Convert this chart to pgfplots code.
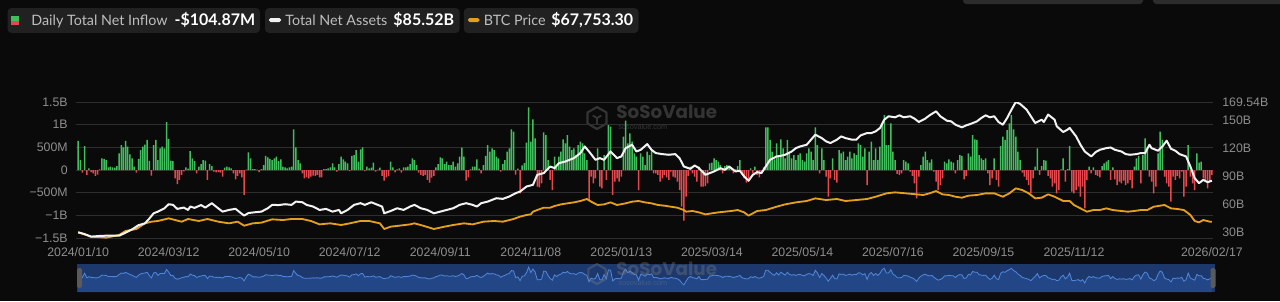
\documentclass[border=0pt]{standalone}
\usepackage{fontspec}
\setmainfont{Liberation Sans}
\newfontfamily\latofont{Lato}
\newfontfamily\wmfont{Poppins}
\usepackage{pgfplots}
\pgfplotsset{compat=1.18}
\usepackage{pgfplotstable}

\definecolor{bg}{RGB}{10,10,10}
\definecolor{gridc}{RGB}{46,46,46}
\definecolor{tickc}{RGB}{142,142,142}
\definecolor{boxc}{RGB}{33,33,33}
\definecolor{tabc}{RGB}{44,44,44}
\definecolor{labc}{RGB}{190,190,190}
\definecolor{upg}{RGB}{64,192,92}
\definecolor{dnr}{RGB}{229,72,77}
\definecolor{assetc}{RGB}{242,242,242}
\definecolor{btcc}{RGB}{228,160,28}
\definecolor{navband}{RGB}{29,56,108}
\definecolor{navfill}{RGB}{35,70,135}
\definecolor{navline}{RGB}{79,134,217}
\definecolor{handlec}{RGB}{90,90,90}
\definecolor{wm}{RGB}{52,52,52}

% Daily total net inflow, million USD, by trading day index
\pgfplotstableread[row sep=\\]{
i v\\
0 640\\1 220\\2 -59\\3 529\\4 -110\\5 37\\6 -44\\7 -74\\8 -132\\9 -103\\
10 15\\11 257\\12 243\\13 220\\14 59\\15 74\\16 59\\17 51\\18 88\\19 368\\
20 551\\21 500\\22 640\\23 515\\24 345\\25 257\\26 74\\27 -60\\28 243\\29 440\\
30 515\\31 560\\32 662\\33 200\\34 -125\\35 551\\36 662\\37 220\\38 478\\39 515\\
40 478\\41 1058\\42 684\\43 206\\44 198\\45 -184\\46 -309\\47 -220\\48 -110\\49 -30\\
50 60\\51 30\\52 419\\53 257\\54 198\\55 -74\\56 74\\57 132\\58 220\\59 206\\
60 -220\\61 132\\62 88\\63 -37\\64 -51\\65 -44\\66 -59\\67 -147\\68 51\\69 74\\
70 59\\71 37\\72 -74\\73 -206\\74 -132\\75 -74\\76 -162\\77 -551\\78 10\\79 390\\
80 257\\81 20\\82 22\\83 10\\84 -44\\85 22\\86 110\\87 309\\88 279\\89 243\\
90 220\\91 257\\92 294\\93 198\\94 235\\95 74\\96 59\\97 37\\98 59\\99 74\\
100 897\\101 500\\102 220\\103 147\\104 -74\\105 -184\\106 -162\\107 -184\\108 -147\\109 -125\\
110 -132\\111 -110\\112 -162\\113 -162\\114 22\\115 22\\116 37\\117 59\\118 147\\119 59\\
120 -37\\121 132\\122 294\\123 235\\124 184\\125 147\\126 -22\\127 309\\128 331\\129 441\\
130 184\\131 456\\132 500\\133 -22\\134 74\\135 37\\136 51\\137 162\\138 -37\\139 10\\
140 51\\141 -132\\142 -235\\143 -162\\144 -132\\145 184\\146 59\\147 -51\\148 15\\149 37\\
150 -59\\151 59\\152 59\\153 74\\154 132\\155 257\\156 220\\157 110\\158 -59\\159 -110\\
160 -132\\161 -110\\162 -220\\163 -279\\164 -169\\165 -132\\166 59\\167 132\\168 279\\169 257\\
170 132\\171 184\\172 110\\173 110\\174 184\\175 74\\176 147\\177 294\\178 492\\179 294\\
180 -235\\181 -162\\182 15\\183 74\\184 74\\185 235\\186 30\\187 -74\\188 110\\189 309\\
190 551\\191 404\\192 478\\193 441\\194 294\\195 257\\196 -37\\197 132\\198 220\\199 404\\
200 478\\201 897\\202 845\\203 -100\\204 30\\205 -515\\206 100\\207 150\\208 603\\209 1382\\
210 625\\211 1117\\212 698\\213 -368\\214 -382\\215 -294\\216 830\\217 772\\218 220\\219 -220\\
220 -441\\221 294\\222 74\\223 294\\224 404\\225 676\\226 588\\227 772\\228 514\\229 441\\
230 478\\231 330\\232 551\\233 625\\234 588\\235 368\\236 220\\237 -661\\238 -147\\239 -294\\
240 -184\\241 478\\242 -368\\243 -404\\244 331\\245 -220\\246 992\\247 956\\248 -551\\249 -257\\
250 -184\\251 -257\\252 -147\\253 735\\254 1088\\255 588\\256 808\\257 625\\258 368\\259 294\\
260 -441\\261 368\\262 294\\263 110\\264 404\\265 331\\266 441\\267 -74\\268 -74\\269 -110\\
270 -257\\271 -184\\272 -110\\273 -162\\274 -220\\275 -37\\276 -147\\277 -169\\278 -257\\279 -441\\
280 -808\\281 -1117\\282 -588\\283 -132\\284 74\\285 -74\\286 -147\\287 -257\\288 74\\289 -368\\
290 -368\\291 -353\\292 -294\\293 147\\294 162\\295 257\\296 220\\297 184\\298 110\\299 -74\\
300 88\\301 110\\302 74\\303 37\\304 -74\\305 15\\306 88\\307 220\\308 -110\\309 -184\\
310 -279\\311 -220\\312 37\\313 -74\\314 74\\315 -110\\316 -162\\317 -74\\318 59\\319 940\\
320 940\\321 662\\322 404\\323 235\\324 588\\325 294\\326 676\\327 478\\328 257\\329 662\\
330 368\\331 257\\332 331\\333 220\\334 331\\335 368\\336 220\\337 184\\338 368\\339 478\\
340 404\\341 220\\342 940\\343 551\\344 -74\\345 478\\346 220\\347 -147\\348 -588\\349 -184\\
350 257\\351 -220\\352 -279\\353 441\\354 368\\355 404\\356 220\\357 294\\358 404\\359 257\\
360 368\\361 331\\362 588\\363 551\\364 294\\365 478\\366 -331\\367 404\\368 625\\369 220\\
370 478\\371 220\\372 515\\373 1029\\374 1213\\375 551\\376 551\\377 1029\\378 404\\379 220\\
380 -88\\381 -110\\382 -74\\383 220\\384 184\\385 147\\386 -37\\387 -132\\388 -294\\389 -625\\
390 -147\\391 110\\392 294\\393 404\\394 220\\395 162\\396 235\\397 -37\\398 -257\\399 -441\\
400 -331\\401 -184\\402 184\\403 147\\404 235\\405 184\\406 162\\407 -74\\408 220\\409 331\\
410 309\\411 -206\\412 -132\\413 368\\414 294\\415 772\\416 676\\417 662\\418 331\\419 257\\
420 220\\421 257\\422 -74\\423 -331\\424 -184\\425 257\\426 -220\\427 -368\\428 529\\429 735\\
430 662\\431 882\\432 1029\\433 1213\\434 897\\435 735\\436 404\\437 220\\438 -59\\439 -147\\
440 -220\\441 -331\\442 -515\\443 -184\\444 74\\445 478\\446 -110\\447 88\\448 220\\449 206\\
450 -132\\451 -184\\452 -368\\453 -294\\454 -515\\455 -441\\456 15\\457 257\\458 -257\\459 20\\
460 529\\461 -478\\462 -515\\463 -441\\464 -368\\465 -588\\466 -368\\467 -845\\468 -220\\469 74\\
470 -74\\471 59\\472 -110\\473 -132\\474 -162\\475 88\\476 147\\477 184\\478 220\\479 -220\\
480 59\\481 -206\\482 -331\\483 -257\\484 -294\\485 -235\\486 -331\\487 -294\\488 -220\\489 -404\\
490 74\\491 257\\492 309\\493 -294\\494 331\\495 698\\496 515\\497 -147\\498 -257\\499 -515\\
500 -368\\501 368\\502 845\\503 662\\504 -147\\505 -294\\506 -368\\507 -698\\508 -147\\509 -220\\
510 -132\\511 -184\\512 -37\\513 -588\\514 -368\\515 551\\516 -147\\517 -294\\518 -441\\519 368\\
520 162\\521 184\\522 -184\\523 -257\\524 -404\\525 -257\\526 -104.87\\
}\inflow

% Total net assets, billion USD
\pgfplotstableread[row sep=\\]{
i b\\
0 30.4\\3 28.5\\6 25.8\\10 26.5\\13 26.8\\17 26.9\\19 26.8\\22 30\\25 33.5\\28 38\\31 40\\33 45\\35 50.7\\37 52.5\\40 56\\42 60.4\\44 59.7\\46 55.4\\49 56.8\\51 54.3\\52 57.9\\54 56.5\\57 59.5\\59 56.8\\62 61.5\\65 56\\67 52.5\\70 54.3\\73 55.5\\75 51.8\\77 48.2\\79 51\\82 51.8\\85 52.5\\88 56.1\\90 59.7\\93 59.5\\96 60.4\\99 59.7\\101 63.2\\104 62.5\\
106 59.7\\109 57.9\\112 54.3\\115 55.4\\118 52.5\\121 54.3\\122 50.7\\125 54.3\\128 59.7\\131 61.5\\133 59.7\\136 62.5\\139 59.7\\141 57.9\\142 50.7\\145 53.2\\148 56.1\\151 54.3\\154 57.9\\156 59.7\\159 56.1\\162 54.3\\165 50.7\\168 52.5\\171 54.3\\174 56.1\\177 59.7\\180 61.5\\183 59.7\\185 57.9\\187 61.5\\190 63.2\\192 65\\194 66.8\\197 66.1\\200 68.6\\203 72.2\\205 73.9\\208 79.3\\
211 81.1\\213 91.8\\216 93.6\\219 100.7\\221 98.9\\223 104.2\\226 106\\228 107.8\\230 109.6\\233 115\\235 122.1\\237 116.7\\240 107.8\\242 109.6\\244 107.8\\247 116.7\\250 109.6\\252 111.4\\254 120.3\\257 123.9\\259 116.7\\261 118.5\\264 124.6\\266 118.5\\268 115\\271 113.9\\274 113.2\\277 113.9\\279 109.6\\281 100.7\\284 98.2\\286 101.8\\288 99\\291 91.8\\293 93.6\\295 95.4\\298 98.9\\300 97.1\\302 100.7\\305 95.4\\307 96.1\\309 90\\311 85.4\\313 91.8\\315 94.7\\
317 93.6\\319 100.7\\321 107.8\\324 111.4\\326 112.1\\328 113.2\\331 116.7\\333 120.3\\335 122.1\\338 123.9\\340 129.3\\342 134.6\\345 131\\347 127.5\\349 125.7\\352 129.3\\354 132.8\\356 131\\359 129.3\\361 129.3\\363 133.9\\366 136.4\\368 136.4\\370 138.2\\372 141.8\\374 150.7\\376 154.3\\379 153.2\\381 155.3\\383 153.2\\386 154.3\\388 151.8\\390 148.2\\393 151.8\\395 155.3\\398 159.6\\400 154.3\\403 149.6\\405 148.9\\407 145.3\\410 142.5\\412 144.6\\414 146.1\\417 148.9\\419 152.5\\421 155.3\\
423 153.2\\425 154.3\\427 148.2\\429 145.3\\431 152.5\\433 161.4\\435 169.54\\437 167.5\\440 161.4\\442 154.3\\444 147.1\\447 150.7\\448 148.2\\450 156.1\\453 150.7\\454 143.6\\457 137.5\\459 140\\460 141.8\\463 132.8\\465 123.9\\467 116.7\\470 111.4\\472 116\\474 118.5\\477 120.3\\479 121\\481 118.5\\484 116.7\\486 113.9\\488 113.2\\491 113.9\\493 115\\495 115\\497 123.9\\498 120.3\\501 117.5\\503 122.1\\505 128.2\\507 119.6\\509 117.5\\511 113.9\\514 111.4\\516 100.7\\518 88.2\\520 82.9\\522 86.4\\524 83.9\\526 85.52\\
}\assets

% BTC price, USD
\pgfplotstableread[row sep=\\]{
i p\\
0 49200\\6 41600\\13 39800\\19 44500\\22 51500\\27 55000\\31 64900\\34 67800\\37 69000\\42 73600\\45 70700\\48 67800\\51 72500\\56 69000\\60 72500\\65 67800\\70 64900\\74 67800\\77 60800\\81 64900\\85 66100\\90 71900\\95 70700\\99 72500\\104 72500\\
108 69000\\112 63100\\117 64900\\122 62000\\126 64900\\131 69000\\135 69000\\140 64900\\142 55000\\145 59100\\149 60800\\154 63100\\156 64900\\160 60800\\165 55000\\170 59100\\174 62000\\179 64900\\183 63100\\188 67800\\193 69000\\197 67800\\202 72500\\205 76600\\208 79500\\210 80600\\
211 85300\\213 88200\\216 92300\\219 92300\\221 95200\\224 98100\\227 99900\\230 101600\\233 104000\\236 107500\\238 102800\\241 97000\\244 98100\\247 101600\\250 97000\\254 99900\\257 102800\\260 104000\\263 101600\\266 99900\\269 97000\\272 95800\\275 94000\\278 92300\\281 88200\\282 85300\\285 86500\\288 84100\\291 80600\\294 82400\\297 84100\\300 85300\\303 86500\\306 88200\\309 84100\\311 78300\\313 82400\\315 86500\\
319 88200\\324 94000\\328 98100\\333 101600\\338 104000\\342 108600\\347 105700\\352 107500\\356 104000\\361 105700\\366 107500\\370 111500\\375 117400\\379 119100\\384 117400\\389 115600\\392 114500\\395 117400\\398 121400\\401 115600\\404 114500\\407 111500\\410 109800\\413 113300\\417 114500\\421 117400\\
425 117400\\429 111500\\432 117400\\435 126100\\438 123200\\441 117400\\444 108600\\447 109800\\450 115600\\453 111500\\457 104000\\460 104000\\462 97000\\465 91100\\468 85300\\471 88200\\474 88200\\477 91100\\480 88200\\484 86500\\487 85300\\490 86500\\493 88200\\496 88200\\499 94000\\504 97000\\507 91100\\510 90000\\513 88200\\516 79500\\518 69000\\520 66600\\522 70700\\525 67800\\526 67753.3\\
}\btc

\begin{document}
\begin{tikzpicture}
\fill[bg] (0,0) rectangle (768pt,180.6pt);
\begin{scope}[x=0.6pt,y=0.6pt]
  % partial tabs at top right
  \fill[tabc, rounded corners=2pt] (963,297) rectangle (1143,312);
  \fill[tabc, rounded corners=2pt] (1153,297) rectangle (1295,312);
  % legend boxes
  \fill[boxc, rounded corners=2.4pt] (7.5,268) rectangle (260,293);
  \fill[boxc, rounded corners=2.4pt] (265,268) rectangle (459.6,293);
  \fill[boxc, rounded corners=2.4pt] (463.8,268) rectangle (638.5,293);
  \fill[upg] (10.5,280.5) rectangle (18.5,285);
  \fill[dnr] (10.5,276.5) rectangle (18.5,280.5);
  \fill[assetc, rounded corners=1pt] (269,279) rectangle (281,283);
  \fill[btcc, rounded corners=1pt] (468,279) rectangle (479.5,283);
  \node[anchor=base west, inner sep=0pt, text=labc, font=\latofont\fontsize{8.6}{10}\selectfont] at (31,275.5) {Daily Total Net Inflow};
  \node[anchor=base east, inner sep=0pt, text=white, font=\latofont\bfseries\fontsize{9.6}{11}\selectfont] at (255.5,275.5) {-\$104.87M};
  \node[anchor=base west, inner sep=0pt, text=labc, font=\latofont\fontsize{8.6}{10}\selectfont] at (285,275.5) {Total Net Assets};
  \node[anchor=base east, inner sep=0pt, text=white, font=\latofont\bfseries\fontsize{9.6}{11}\selectfont] at (454.5,275.5) {\$85.52B};
  \node[anchor=base west, inner sep=0pt, text=labc, font=\latofont\fontsize{8.6}{10}\selectfont] at (483.5,275.5) {BTC Price};
  \node[anchor=base east, inner sep=0pt, text=white, font=\latofont\bfseries\fontsize{9.6}{11}\selectfont] at (633.5,275.5) {\$67,753.30};
  % watermark in the chart
  \draw[wm, line width=1.3pt, line join=round] (597,183) +(90:11) -- +(150:11) -- +(210:11) -- +(270:11) -- +(330:11) -- +(30:11) -- cycle;
  \draw[wm, line width=1.1pt] (597,183) +(150:5) -- +(90:0) -- +(30:5) (597,183) +(90:0) -- +(270:6);
  \node[anchor=west, inner sep=0pt, text=wm, font=\wmfont\bfseries\fontsize{11}{11}\selectfont] at (616,189) {SoSoValue};
  \node[anchor=west, inner sep=0pt, text=wm, font=\fontsize{4.4}{4.4}\selectfont] at (618,174) {sosovalue.com};
  % navigator band
  \fill[navband] (77,9) rectangle (1215,37);
\end{scope}

% navigator mini chart
\begin{axis}[at={(45.6pt,5.4pt)}, anchor=south west, scale only axis,
  width=682.2pt, height=16.8pt, xmin=-1, xmax=526.5, ymin=0, ymax=3920, hide axis]
  \addplot[fill=navfill, draw=none] table[x=i, y expr=\thisrow{v}+2100]{\inflow} \closedcycle;
  \addplot[navline, line width=0.5pt] table[x=i, y expr=\thisrow{v}+2100]{\inflow};
\end{axis}

\begin{scope}[x=0.6pt,y=0.6pt]
  \fill[handlec, rounded corners=1pt] (77,13) rectangle (82,33);
  \fill[handlec, rounded corners=1pt] (1210.5,13) rectangle (1215.5,33);
  \begin{scope}[opacity=0.35]
  \draw[gray, line width=1.3pt, line join=round] (597,27) +(90:10) -- +(150:10) -- +(210:10) -- +(270:10) -- +(330:10) -- +(30:10) -- cycle;
  \node[anchor=west, inner sep=0pt, text=gray, font=\wmfont\bfseries\fontsize{11}{11}\selectfont] at (616,32) {SoSoValue};
  \node[anchor=west, inner sep=0pt, text=gray, font=\fontsize{4.4}{4.4}\selectfont] at (618,18) {sosovalue.com};
  \end{scope}
\end{scope}

% main axis: daily net inflow bars
\begin{axis}[at={(45.6pt,37.8pt)}, anchor=south west, scale only axis,
  width=682.2pt, height=81.6pt,
  xmin=-1, xmax=526.5, ymin=-1500, ymax=1500,
  axis line style={draw=none}, major tick length=0pt,
  ytick={-1500,-1000,-500,0,500,1000,1500},
  yticklabels={−1.5B,−1B,−500M,0,500M,1B,1.5B},
  ymajorgrids, grid style={gridc, line width=0.6pt},
  yticklabel style={anchor=east, inner sep=0pt, xshift=-4.8pt, text=tickc, font=\fontsize{7.4}{8}\selectfont},
  xtick={0,42,84,126,168,210,252,294,336,378,420,462,526},
  xticklabels={2024/01/10,2024/03/12,2024/05/10,2024/07/12,2024/09/11,2024/11/08,2025/01/13,2025/03/14,2025/05/14,2025/07/16,2025/09/15,2025/11/12,2026/02/17},
  xticklabel style={anchor=center, inner sep=0pt, yshift=-8.4pt, text=tickc, font=\fontsize{7.4}{8}\selectfont},
]
  \addplot[ybar, bar width=0.9pt, bar shift=0pt, fill=upg, draw=none, restrict y to domain=0:5000] table[x=i, y=v]{\inflow};
  \addplot[ybar, bar width=0.9pt, bar shift=0pt, fill=dnr, draw=none, restrict y to domain=-5000:0] table[x=i, y=v]{\inflow};
\end{axis}

% BTC price (hidden scale)
\begin{axis}[at={(45.6pt,37.8pt)}, anchor=south west, scale only axis,
  width=682.2pt, height=81.6pt,
  xmin=-1, xmax=526.5, ymin=39228, ymax=277228, hide axis]
  \addplot[btcc, line width=1.1pt, line join=round] table[x=i, y=p]{\btc};
\end{axis}

% Total net assets (right scale)
\begin{axis}[at={(45.6pt,37.8pt)}, anchor=south west, scale only axis,
  width=682.2pt, height=81.6pt,
  xmin=-1, xmax=526.5, ymin=24.32, ymax=169.54,
  axis y line*=right, axis x line=none, xtick=\empty,
  axis line style={draw=none}, major tick length=0pt,
  ytick={30,60,90,120,150,169.54},
  yticklabels={30B,60B,90B,120B,150B,169.54B},
  yticklabel style={anchor=west, inner sep=0pt, xshift=5.4pt, text=tickc, font=\fontsize{7.4}{8}\selectfont},
]
  \addplot[assetc, line width=1.2pt, line join=round] table[x=i, y=b]{\assets};
\end{axis}

\pgfresetboundingbox
\useasboundingbox (0,0) rectangle (768pt,180.6pt);
\end{tikzpicture}
\end{document}
